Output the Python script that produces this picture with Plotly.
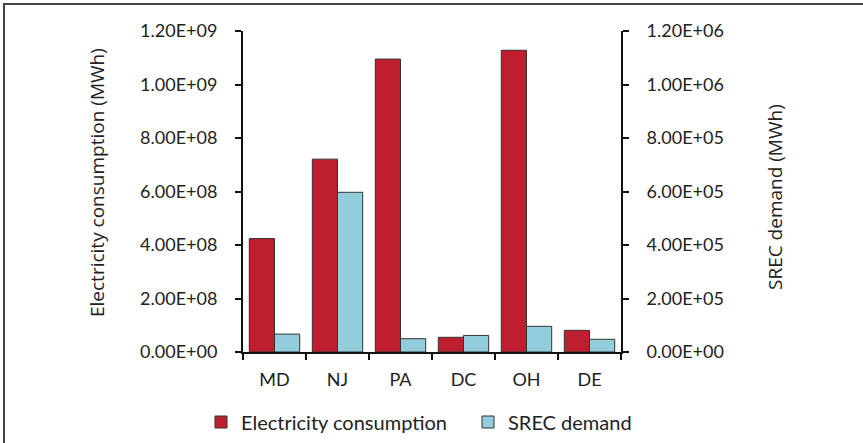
import plotly.graph_objects as go

states = ["MD", "NJ", "PA", "DC", "OH", "DE"]
electricity = [4.24e8, 7.21e8, 1.095e9, 5.5e7, 1.128e9, 8.1e7]
srec = [6.7e4, 5.97e5, 4.97e4, 6.2e4, 9.6e4, 4.75e4]

left_ticks = [0, 2e8, 4e8, 6e8, 8e8, 1e9, 1.2e9]
left_text = ["0.00E+00", "2.00E+08", "4.00E+08", "6.00E+08", "8.00E+08", "1.00E+09", "1.20E+09"]
right_ticks = [0, 2e5, 4e5, 6e5, 8e5, 1e6, 1.2e6]
right_text = ["0.00E+00", "2.00E+05", "4.00E+05", "6.00E+05", "8.00E+05", "1.00E+06", "1.20E+06"]

RED = "#BE1E2D"
BLUE = "#92CDDC"
TICKFONT = dict(family="Lato", size=18, color="#222222")
TITLEFONT = dict(family="Open Sans", size=19, color="#222222")

fig = go.Figure()
fig.add_trace(go.Bar(
    x=states, y=electricity, name="Electricity consumption",
    marker=dict(color=RED, line=dict(color="#333333", width=1)),
    width=0.4, offset=-0.4, yaxis="y",
))
fig.add_trace(go.Bar(
    x=states, y=srec, name="SREC demand",
    marker=dict(color=BLUE, line=dict(color="#333333", width=1)),
    width=0.4, offset=0.0, yaxis="y2",
))

L, R, T, B = 243, 242, 31, 91
W, H = 863, 443
pw, ph = W - L - R, H - T - B

def px(x):
    return (x - L) / pw

def py(y):
    return (H - B - y) / ph

fig.update_layout(
    width=W, height=H,
    margin=dict(l=L, r=R, t=T, b=B, autoexpand=False),
    paper_bgcolor="white", plot_bgcolor="white",
    showlegend=True,
    barmode="overlay",
    legend=dict(
        orientation="h", x=px(201), xanchor="left", y=py(422), yanchor="middle",
        font=dict(family="Lato", size=20, color="#222222"),
        itemwidth=30, traceorder="normal", bgcolor="rgba(0,0,0,0)",
        entrywidth=222, entrywidthmode="pixels",
    ),
    xaxis=dict(
        type="category", range=[-0.5, 5.5],
        showline=True, linecolor="#111111", linewidth=2,
        ticks="outside", tickson="boundaries", ticklen=6, tickwidth=1.5, tickcolor="#111111",
        tickfont=TICKFONT, showgrid=False, zeroline=False,
        ticklabelstandoff=10,
    ),
    yaxis=dict(
        range=[0, 1.2e9], tickvals=left_ticks, ticktext=left_text,
        showline=True, linecolor="#111111", linewidth=2,
        ticks="outside", ticklen=6, tickwidth=1.5, tickcolor="#111111",
        tickfont=TICKFONT, showgrid=False, zeroline=False,
        ticklabelstandoff=14,
    ),
    yaxis2=dict(
        range=[0, 1.2e6], tickvals=right_ticks, ticktext=right_text,
        overlaying="y", side="right", anchor="x",
        showline=True, linecolor="#111111", linewidth=2,
        ticks="outside", ticklen=6, tickwidth=1.5, tickcolor="#111111",
        tickfont=TICKFONT, showgrid=False, zeroline=False,
        ticklabelstandoff=14,
    ),
    annotations=[
        dict(text="Electricity consumption (MWh)", x=px(97), y=py(183), xref="paper", yref="paper",
             textangle=-90, showarrow=False, font=TITLEFONT, xanchor="center", yanchor="middle"),
        dict(text="SREC demand (MWh)", x=px(775), y=py(197), xref="paper", yref="paper",
             textangle=-90, showarrow=False, font=TITLEFONT, xanchor="center", yanchor="middle"),
    ],
    shapes=[
        dict(type="rect", xref="paper", yref="paper",
             x0=px(4), x1=px(880), y0=py(460), y1=py(4),
             line=dict(color="#444444", width=2), fillcolor="rgba(0,0,0,0)", layer="below"),
    ],
)

fig.write_html(
    "out.html",
    config={"displayModeBar": False},
    post_script="document.body.style.margin='0px';document.body.style.overflow='hidden';",
)
